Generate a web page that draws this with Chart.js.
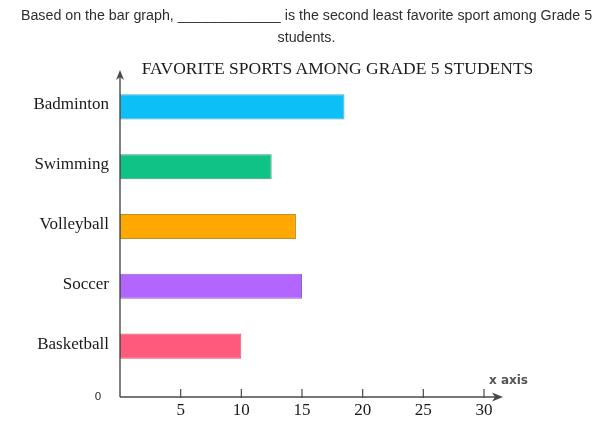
<!DOCTYPE html>
<html>
<head>
<meta charset="utf-8">
<script src="https://cdn.jsdelivr.net/npm/chart.js@4"></script>
<style>
    html, body {
        margin: 0;
        padding: 0;
        background: #ffffff;
    }
    #page {
        position: relative;
        width: 606px;
        height: 426px;
        overflow: hidden;
    }
    #question {
        position: absolute;
        left: 0;
        top: 4px;
        width: 613px;
        text-align: center;
        font-family: "Liberation Sans", Arial, sans-serif;
        font-size: 14.25px;
        line-height: 22px;
        color: #2e2e2e;
        white-space: nowrap;
    }
    #title {
        position: absolute;
        left: 0;
        top: 57px;
        width: 675px;
        text-align: center;
        font-family: "Liberation Serif", "Times New Roman", serif;
        font-size: 17.5px;
        line-height: 22px;
        color: #1a1a1a;
        white-space: nowrap;
    }
    #chartBox {
        position: absolute;
        left: 0;
        top: 0;
        width: 606px;
        height: 426px;
    }
</style>
</head>
<body>
<div id="page">
    <div id="chartBox"><canvas id="sportsChart"></canvas></div>
    <div id="question">Based on the bar graph, _____________ is the second least favorite sport among Grade 5<br>students.</div>
    <div id="title">FAVORITE SPORTS AMONG GRADE 5 STUDENTS</div>
</div>

<script>
// ==========================================
// DATA
// ==========================================

const sports = ['Badminton', 'Swimming', 'Volleyball', 'Soccer', 'Basketball'];
const students = [18.5, 12.5, 14.5, 15, 10];
const barColors = ['#0cbff6', '#11c286', '#ffa900', '#b266ff', '#ff5a7b'];
const borderColors = ['#4aa6c4', '#3a9c7c', '#c98a2a', '#9460c8', '#c85a70'];
const xTicks = [0, 5, 10, 15, 20, 25, 30];
const xAxisLabel = 'x axis';

// ==========================================
// AXIS DRAWING (arrows, tick marks, labels)
// ==========================================

const axisGap = 21;
const inkColor = '#4a4a4a';

function drawArrowHead(ctx, x, y, dir) {
    // dir: 'up' or 'right'
    ctx.beginPath();
    if (dir === 'up') {
        ctx.moveTo(x, y);
        ctx.lineTo(x - 4, y + 10);
        ctx.lineTo(x, y + 7);
        ctx.lineTo(x + 4, y + 10);
    } else {
        ctx.moveTo(x, y);
        ctx.lineTo(x - 11, y - 4.5);
        ctx.lineTo(x - 8, y);
        ctx.lineTo(x - 11, y + 4.5);
    }
    ctx.closePath();
    ctx.fill();
}

const axisPlugin = {
    id: 'handAxes',
    afterDraw(chart) {
        const ctx = chart.ctx;
        const area = chart.chartArea;
        const xScale = chart.scales.x;
        const x0 = xScale.getPixelForValue(0);
        const axisY = area.bottom + axisGap;

        ctx.save();
        ctx.strokeStyle = inkColor;
        ctx.fillStyle = inkColor;
        ctx.lineWidth = 1.4;

        // vertical axis with arrow
        ctx.beginPath();
        ctx.moveTo(x0, axisY);
        ctx.lineTo(x0, area.top - 5);
        ctx.stroke();
        drawArrowHead(ctx, x0, area.top - 7, 'up');

        // horizontal axis with arrow
        const xEnd = xScale.getPixelForValue(xTicks[xTicks.length - 1]) + 19;
        ctx.beginPath();
        ctx.moveTo(x0, axisY);
        ctx.lineTo(xEnd - 4, axisY);
        ctx.stroke();
        drawArrowHead(ctx, xEnd, axisY, 'right');

        // tick marks
        ctx.lineWidth = 1.2;
        xTicks.forEach(v => {
            if (v === 0) return;
            const px = xScale.getPixelForValue(v);
            ctx.beginPath();
            ctx.moveTo(px, axisY - 8);
            ctx.lineTo(px, axisY + 1);
            ctx.stroke();
        });

        // origin label
        ctx.font = '11px "DejaVu Sans", sans-serif';
        ctx.fillStyle = '#333333';
        ctx.textAlign = 'center';
        ctx.textBaseline = 'middle';
        ctx.fillText('0', x0 - 22, axisY);

        // axis caption
        ctx.font = '600 12px "DejaVu Sans", sans-serif';
        ctx.fillStyle = '#555555';
        ctx.textAlign = 'left';
        ctx.fillText(xAxisLabel, xScale.getPixelForValue(xTicks[xTicks.length - 1]) + 5, axisY - 16);

        ctx.restore();
    }
};

// ==========================================
// CHART
// ==========================================

function initSportsChart() {
    const ctx = document.getElementById('sportsChart');
    if (!ctx) return;

    new Chart(ctx, {
        type: 'bar',
        data: {
            labels: sports,
            datasets: [{
                label: 'Students',
                data: students,
                backgroundColor: barColors,
                borderColor: borderColors,
                borderWidth: 1,
                borderSkipped: false,
                categoryPercentage: 0.42,
                barPercentage: 1.0
            }]
        },
        options: {
            indexAxis: 'y',
            responsive: true,
            maintainAspectRatio: false,
            animation: false,
            layout: {
                padding: { top: 77, right: 122, bottom: 0, left: 0 }
            },
            plugins: {
                legend: { display: false },
                tooltip: { enabled: false },
                title: { display: false }
            },
            scales: {
                x: {
                    type: 'linear',
                    min: xTicks[0],
                    max: xTicks[xTicks.length - 1],
                    afterFit(scale) { scale.height = 50; },
                    afterBuildTicks(scale) {
                        scale.ticks = xTicks.map(v => ({ value: v }));
                    },
                    grid: { display: false, drawTicks: false },
                    border: { display: false },
                    ticks: {
                        padding: 24,
                        color: '#1a1a1a',
                        font: { family: '"Liberation Serif", "Times New Roman", serif', size: 17 },
                        callback: (v) => (v === 0 ? '' : v)
                    }
                },
                y: {
                    afterFit(scale) { scale.width = 120; },
                    grid: { display: false, drawTicks: false },
                    border: { display: false },
                    ticks: {
                        padding: 11,
                        labelOffset: -2,
                        color: '#1a1a1a',
                        font: { family: '"Liberation Serif", "Times New Roman", serif', size: 17 }
                    }
                }
            }
        },
        plugins: [axisPlugin]
    });
}

document.addEventListener('DOMContentLoaded', initSportsChart);
</script>
</body>
</html>
